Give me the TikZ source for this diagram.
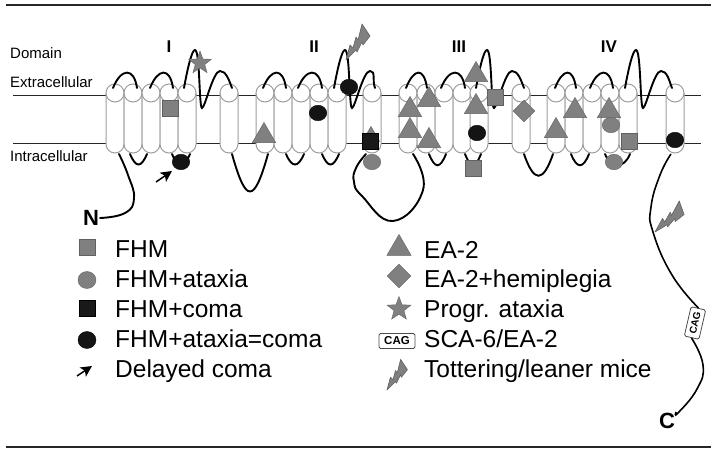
\documentclass[tikz,border=0pt]{standalone}
\usepackage{fontspec}
\setmainfont{Liberation Sans}
\usetikzlibrary{arrows.meta,shapes.geometric}
\definecolor{mutgray}{gray}{0.5}
\definecolor{edgegray}{gray}{0.38}
\definecolor{helixgray}{gray}{0.62}
\tikzset{%
	helix/.style    = {draw=helixgray, fill=white, line width=1pt},
	membrane/.style = {draw=black!85, line width=1pt},
	rulebar/.style  = {draw=black!85, line width=1.6pt},
	loopline/.style = {draw=black, line width=1.9pt, line cap=round},
	tailline/.style = {draw=black, line width=1.6pt},
	sqgray/.style   = {draw=edgegray, fill=mutgray, rectangle, minimum size=16pt, inner sep=0pt},
	sqblack/.style  = {draw=black, fill=black!90, rectangle, minimum size=15.5pt, inner sep=0pt},
	cgray/.style    = {draw=edgegray, fill=mutgray, ellipse, minimum width=17.5pt, minimum height=15.5pt, inner sep=0pt},
	cblack/.style   = {draw=black, fill=black!92, ellipse, minimum width=17.5pt, minimum height=15.5pt, inner sep=0pt},
	tri/.style      = {draw=edgegray, fill=mutgray, regular polygon, regular polygon sides=3, minimum size=27pt, inner sep=0pt, anchor=corner 1},
	dia/.style      = {draw=edgegray, fill=mutgray, diamond, minimum size=22pt, inner sep=0pt},
	starg/.style    = {draw=edgegray, fill=mutgray, star, star points=5, star point ratio=2.4, minimum size=24pt, inner sep=0pt},
	cagbox/.style   = {draw=black!70, fill=white, rectangle, rounded corners=1.5pt, line width=.8pt, inner sep=0pt, font=\bfseries\fontsize{10}{10}\selectfont},
	legendtext/.style = {anchor=base west, inner sep=0pt, font=\fontsize{24.5}{26}\selectfont},
	sidetext/.style = {anchor=base west, inner sep=0pt, font=\fontsize{15}{16}\selectfont},
	domlabel/.style = {anchor=base, inner sep=0pt, font=\bfseries\fontsize{17}{18}\selectfont},
	term/.style     = {inner sep=1pt, font=\bfseries\fontsize{22}{22}\selectfont},
	pointer/.style  = {line width=1.5pt, -{Stealth[length=11pt,width=11pt,inset=2.5pt]}},
	bolt/.pic       = {\draw[edgegray, fill=mutgray, line width=.6pt, line join=round] (0,0) -- (4,-15) -- (7,-12) -- (10,-23) -- (12,-20) -- (16,-36) -- (24,-24) -- (17,-15) -- (16,-18) -- (11,-8) -- (10,-10) -- cycle;},
}
\begin{document}
\begin{tikzpicture}[x=1pt,y=-1pt]
	\useasboundingbox (0,0) rectangle (718,453);
	% rules and membrane
	\coordinate (rtl) at (6,5);
	\coordinate (rtr) at (711,5);
	\coordinate (rbl) at (6,447);
	\coordinate (rbr) at (711,447);
	\draw[rulebar] (rtl) -- (rtr);
	\draw[rulebar] (rbl) -- (rbr);
	\coordinate (mtl) at (13,95);
	\coordinate (mtr) at (701,95);
	\coordinate (mbl) at (13,143);
	\coordinate (mbr) at (701,143);
	\draw[membrane] (mtl) -- (mtr);
	\draw[membrane] (mbl) -- (mbr);
	% helices
	\foreach \x in {115,133,151,169,187,229,265,283,301,319,337,372,408,426,444,462,479,521,556,574,592,610,628,675}{
		\draw[helix] (\x-9,93) -- (\x-9,144) arc (180:0:9) -- (\x+9,93);
		\draw[helix] (\x,93) circle (9);
	}
	% loop ends, top
	\foreach \n/\x in {a1/113,a2/137,a3/150,a4/173,a5/184,a6/232,b1/263,b2/286,b3/298,b4/322,b5/334,b6/375,c1/406,c2/427,c3/441,c4/465,c5/476,c6/524,d1/555,d2/576,d3/590,d4/613,d5/625,e1/672}
		\coordinate (\n t) at (\x,88);
	% loop ends, bottom
	\foreach \n/\x in {a1/119,a2/130,a3/147,a4/172,a5/190,a6/232,b1/268,b2/286,b3/304,b4/322,b5/339,b6/366,c1/413,c2/429,c3/446,c4/465,c5/481,c6/524,d1/553,d2/571,d3/589,d4/605,d5/630,e1/671}
		\coordinate (\n b) at (\x,154);
	% loops
	\foreach \p/\q in {a1/a2,a3/a4,b1/b2,b3/b4,c1/c2,c3/c4,d1/d2,d3/d4}
		\draw[loopline] (\p t) .. controls +(8,-20) and +(-3,-21) .. (\q t);
	\foreach \p/\q in {a5/a6,b5/b6,c5/c6,d5/e1}
		\draw[loopline] (\p t) .. controls +(4,-22) and +(-3,0) .. ++(11,-38)
			.. controls +(5,0) and +(-3,0) .. ++(7,58)
			.. controls +(3,0) and +(-7,0) .. ++(18,-37)
			.. controls +(6,0) and +(-3,-8) .. (\q t);
	\foreach \p/\q/\h/\w in {a2/a3/14/6,a4/a5/14/6,b2/b3/14/6,b4/b5/14/6,c2/c3/15/6,c4/c5/15/6,d2/d3/15/6,d4/d5/15/6,a6/b1/50/14,c6/d1/29/10}
		\draw[loopline] (\p b) .. controls +(\w,\h) and +(-\w,\h) .. (\q b);
	% tails
	\node[term] (nterm) at (91,218) {N};
	\node[term] (cterm) at (667,421) {C};
	\node[cagbox, rotate=77, minimum width=30pt, minimum height=15pt] (cagtail) at (695,323) {CAG};
	\draw[loopline] plot[smooth,tension=.8] coordinates {(a1b) (128,175) (134,198) (125,213) (nterm.east)};
	\draw[loopline] plot[smooth,tension=.8] coordinates {(b6b) (356,168) (354,182) (362,196) (393,221) (423,190) (c1b)};
	\draw[tailline] plot[smooth,tension=.8] coordinates {(e1b) (660,175) (651,207) (653,232) (672,275) (cagtail.east)};
	\draw[tailline] plot[smooth,tension=.8] coordinates {(cagtail.west) (703,365) (697,389) (678,413) (cterm.north east)};
	% labels
	\node[sidetext] (ldom) at (10,58) {Domain};
	\node[sidetext] (lext) at (10,87) {Extracellular};
	\node[sidetext] (lint) at (10,161) {Intracellular};
	\node[domlabel] (dI) at (169,52) {I};
	\node[domlabel] (dII) at (314,52) {II};
	\node[domlabel] (dIII) at (459,52) {III};
	\node[domlabel] (dIV) at (609,52) {IV};
	% mutations
	\path (346,60) pic {bolt};
	\path (655,232) pic[rotate=-14] {bolt};
	\node[starg] (s1) at (200,63) {};
	\node[sqgray] (fa) at (170,108) {};
	\node[cblack] (ca) at (181,162) {};
	\coordinate (dcs) at (156,182);
	\coordinate (dce) at (172,171);
	\draw[pointer] (dcs) -- (dce);
	\node[tri] (tb) at (264,122) {};
	\node[cblack] (cb1) at (318,113) {};
	\node[cblack] (cb2) at (349,87) {};
	\node[tri, minimum size=20pt] (tb2) at (371,126) {};
	\node[sqblack] (kb) at (370,141) {};
	\node[cgray] (gb) at (372,162) {};
	\node[tri] (tc1) at (429,86) {};
	\node[tri] (tc2) at (410,96) {};
	\node[tri] (tc3) at (410,117) {};
	\node[tri] (tc4) at (429,127) {};
	\node[tri] (tc5) at (476,61) {};
	\node[tri] (tc6) at (476,93) {};
	\node[cblack] (cc) at (477,133) {};
	\node[sqgray] (fc1) at (495,97) {};
	\node[sqgray] (fc2) at (473,168) {};
	\node[dia] (dc) at (524,111) {};
	\node[tri] (td1) at (556,117) {};
	\node[tri] (td2) at (575,97) {};
	\node[tri] (td3) at (609,97) {};
	\node[cgray] (gd1) at (611,125) {};
	\node[cgray] (gd2) at (614,162) {};
	\node[sqgray] (fd) at (629,141) {};
	\node[cblack] (ce) at (675,140) {};
	% legend, left
	\node[sqgray] (k1) at (87,247) {};
	\node[cgray, minimum width=18pt, minimum height=17pt] (k2) at (87,280) {};
	\node[sqblack] (k3) at (87,308) {};
	\node[cblack, minimum width=18pt, minimum height=17pt] (k4) at (87,340) {};
	\coordinate (k5s) at (77,376);
	\coordinate (k5e) at (92,366);
	\draw[pointer] (k5s) -- (k5e);
	\node[legendtext] (t1) at (115,257) {FHM};
	\node[legendtext] (t2) at (115,287) {FHM+ataxia};
	\node[legendtext] (t3) at (115,317) {FHM+coma};
	\node[legendtext] (t4) at (115,347) {FHM+ataxia=coma};
	\node[legendtext] (t5) at (115,377) {Delayed coma};
	% legend, right
	\node[tri, minimum size=28pt] (k6) at (399,234) {};
	\node[dia, minimum size=24pt] (k7) at (399,276) {};
	\node[starg, minimum size=25pt] (k8) at (399,309) {};
	\node[cagbox, minimum width=36pt, minimum height=15pt, font=\bfseries\fontsize{11.5}{12}\selectfont] (k9) at (397,341) {CAG};
	\path (387,390) pic[scale=.85] {bolt};
	\node[legendtext] (t6) at (424,258) {EA-2};
	\node[legendtext] (t7) at (424,287) {EA-2+hemiplegia};
	\node[legendtext] (t8) at (424,317) {Progr. ataxia};
	\node[legendtext] (t9) at (424,347) {SCA-6/EA-2};
	\node[legendtext] (t10) at (424,377) {Tottering/leaner mice};
\end{tikzpicture}
\end{document}
